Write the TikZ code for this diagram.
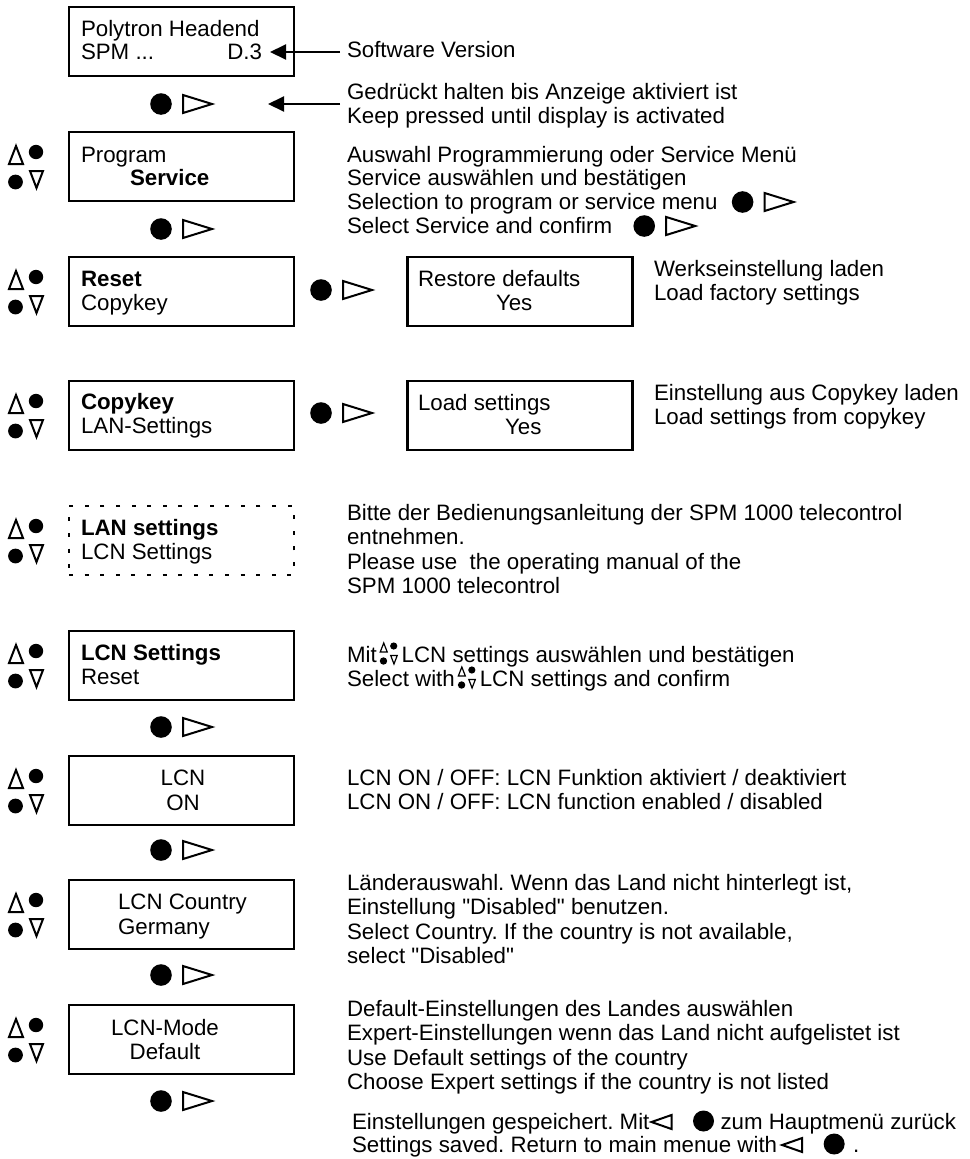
\documentclass[tikz,border=0pt]{standalone}
\usepackage{fontspec}
\setmainfont{Liberation Sans}[Ligatures=TeXOff]
\usetikzlibrary{arrows.meta}
\frenchspacing
\begin{document}
\begin{tikzpicture}[x=1pt,y=-1pt,
  txt/.style={anchor=base west,inner sep=0pt,outer sep=0pt,font=\fontsize{22.3}{24}\selectfont},
  txtc/.style={txt,anchor=base},
  txtr/.style={txt,anchor=base east},
  bold/.style={font=\fontsize{22.3}{24}\selectfont\bfseries},
  menubox/.style={draw,line width=2.4pt,minimum width=225pt,minimum height=69pt,inner sep=0pt},
  dotbox/.style={menubox,line width=2.2pt,dash pattern=on 4pt off 11.6pt},
  symline/.style={line width=2pt,line join=miter},
  arr/.style={line width=2pt,-{Triangle[length=16pt,width=15pt]}},
  okbtn/.pic={\fill (0,0) circle (10.8pt);
    \draw[line width=2pt,line join=miter] (22,-9) -- (51,0) -- (22,9) -- cycle;},
  backbtn/.pic={\draw[line width=2pt,line join=miter] (20,-7) -- (0,0) -- (20,7) -- cycle;
    \fill (52,-1) circle (10.5pt);},
  updown/.pic={\draw[symline] (9,33) -- (16,15) -- (23,33) -- cycle;
    \fill (36,21) circle (7.2pt);
    \fill (15.5,51) circle (7.4pt);
    \draw[symline] (30,40) -- (43,40) -- (36.5,57) -- cycle;}
]
\useasboundingbox (0,0) rectangle (969,1159);

% ---------- box 1
\node[menubox] (b1) at (181.5,41.5) {};
\node[txt] (b1a) at (81,36) {Polytron Headend};
\node[txt] (b1b) at (81,59) {SPM ...};
\node[txtr] (d3) at (262,59) {D.3};
\node[txt] (swv) at (347,57) {Software Version};
\coordinate (swfrom) at (340,52);
\draw[arr,shorten >=8pt] (swfrom) -- (d3.east |- swfrom);

% row 1
\coordinate (r1) at (161,104);
\pic at (r1) {okbtn};
\coordinate (kpfrom) at (340,104);
\coordinate (kptip) at (268,104);
\draw[arr] (kpfrom) -- (kptip);
\node[txt] (t1a) at (347,99) {Gedrückt halten bis Anzeige aktiviert ist};
\node[txt] (t1b) at (347,123) {Keep pressed until display is activated};

% ---------- box 2
\pic at (0,131) {updown};
\node[menubox] (b2) at (181.5,166.5) {};
\node[txt] (b2a) at (81,162) {Program};
\node[txt,bold] (b2b) at (130,185) {Service};
\node[txt] (t2a) at (347,162) {Auswahl Programmierung oder Service Menü};
\node[txt] (t2b) at (347,185) {Service auswählen und bestätigen};
\node[txt] (t2c) at (347,209) {Selection to program or service menu};
\pic at ([xshift=25pt,yshift=7pt]t2c.base east) {okbtn};
\node[txt] (t2d) at (347,233) {Select Service and confirm};
\pic at ([xshift=32pt,yshift=7pt]t2d.base east) {okbtn};
\pic at (161,229) {okbtn};

% ---------- box 3
\pic at (0,256) {updown};
\node[menubox] (b3) at (181.5,291.5) {};
\node[txt,bold] (b3a) at (81,286) {Reset};
\node[txt] (b3b) at (81,310) {Copykey};
\pic at (321,290) {okbtn};
\node[menubox] (b3r) at (520,291.5) {};
\node[txt] (b3ra) at (418,286) {Restore defaults};
\node[txt] (b3rb) at (496,310) {Yes};
\node[txt] (t3a) at (654,276) {Werkseinstellung laden};
\node[txt] (t3b) at (654,300) {Load factory settings};

% ---------- box 4
\pic at (0,380) {updown};
\node[menubox] (b4) at (181.5,415.5) {};
\node[txt,bold] (b4a) at (81,409) {Copykey};
\node[txt] (b4b) at (81,433) {LAN-Settings};
\pic at (321,413) {okbtn};
\node[menubox] (b4r) at (520,415.5) {};
\node[txt] (b4ra) at (418,410) {Load settings};
\node[txt] (b4rb) at (505,434) {Yes};
\node[txt] (t4a) at (654,400) {Einstellung aus Copykey laden};
\node[txt] (t4b) at (654,424) {Load settings from copykey};

% ---------- dashed box
\pic at (0,505) {updown};
\node[dotbox] (b5) at (181.5,540.5) {};
\node[txt,bold] (b5a) at (81,535) {LAN settings};
\node[txt] (b5b) at (81,559) {LCN Settings};
\node[txt] (t5a) at (347,520) {Bitte der Bedienungsanleitung der SPM 1000 telecontrol};
\node[txt] (t5b) at (347,544) {entnehmen.};
\node[txt] (t5c) at (347,569) {Please use\ \ the operating manual of the};
\node[txt] (t5d) at (347,593) {SPM 1000 telecontrol};

% ---------- box 6
\pic at (0,630) {updown};
\node[menubox] (b6) at (181.5,665.5) {};
\node[txt,bold] (b6a) at (81,660) {LCN Settings};
\node[txt] (b6b) at (81,684) {Reset};
\node[txt] (t6a) at (347,662) {Mit};
\pic[scale=0.5,symline/.style={line width=1.2pt,line join=miter}] at ([xshift=-1pt,yshift=26.5pt]t6a.base east) {updown};
\node[txt] (t6a2) at ([xshift=25pt]t6a.base east) {LCN settings auswählen und bestätigen};
\node[txt] (t6b) at (347,686) {Select with};
\pic[scale=0.5,symline/.style={line width=1.2pt,line join=miter}] at ([xshift=-1pt,yshift=26.5pt]t6b.base east) {updown};
\node[txt] (t6b2) at ([xshift=25pt]t6b.base east) {LCN settings and confirm};
\pic at (161,727) {okbtn};

% ---------- box 7
\pic at (0,755) {updown};
\node[menubox] (b7) at (181.5,790.5) {};
\node[txtc] (b7a) at (183,785) {LCN};
\node[txtc] (b7b) at (183,810) {ON};
\node[txt] (t7a) at (347,785) {LCN ON / OFF: LCN Funktion aktiviert / deaktiviert};
\node[txt] (t7b) at (347,809) {LCN ON / OFF: LCN function enabled / disabled};
\pic at (161,850) {okbtn};

% ---------- box 8
\pic at (0,879) {updown};
\node[menubox] (b8) at (181.5,914.5) {};
\node[txt] (b8a) at (118,909) {LCN Country};
\node[txt] (b8b) at (118,934) {Germany};
\node[txt] (t8a) at (347,890) {Länderauswahl. Wenn das Land nicht hinterlegt ist,};
\node[txt] (t8b) at (347,914) {Einstellung "Disabled" benutzen.};
\node[txt] (t8c) at (347,939) {Select Country. If the country is not available,};
\node[txt] (t8d) at (347,963) {select "Disabled"};
\pic at (161,975) {okbtn};

% ---------- box 9
\pic at (0,1004) {updown};
\node[menubox] (b9) at (181.5,1039.5) {};
\node[txtc] (b9a) at (165,1035) {LCN-Mode};
\node[txtc] (b9b) at (165,1059) {Default};
\node[txt] (t9a) at (347,1016) {Default-Einstellungen des Landes auswählen};
\node[txt] (t9b) at (347,1040) {Expert-Einstellungen wenn das Land nicht aufgelistet ist};
\node[txt] (t9c) at (347,1065) {Use Default settings of the country};
\node[txt] (t9d) at (347,1089) {Choose Expert settings if the country is not listed};
\pic at (161,1101) {okbtn};

% ---------- bottom
\node[txt] (s1) at (352,1129) {Einstellungen gespeichert. Mit};
\pic at ([xshift=2pt,yshift=7pt]s1.base east) {backbtn};
\node[txt] (s1b) at ([xshift=71pt]s1.base east) {zum Hauptmenü zurück};
\node[txt] (s2) at (352,1152) {Settings saved. Return to main menue with};
\pic at ([xshift=5pt,yshift=7pt]s2.base east) {backbtn};
\node[txt] (s2b) at ([xshift=76pt]s2.base east) {.};
\end{tikzpicture}
\end{document}
